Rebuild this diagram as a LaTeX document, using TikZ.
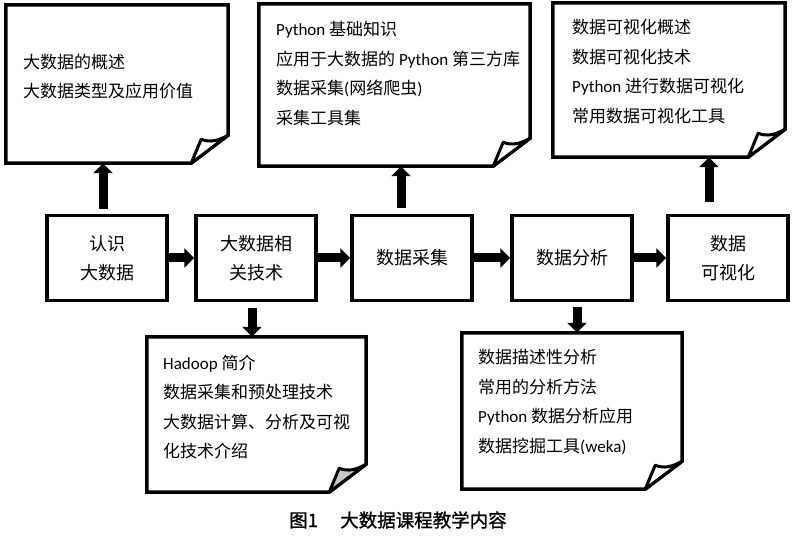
\documentclass[tikz,border=0pt]{standalone}
\usepackage{fontspec}
\setmainfont{Noto Sans CJK SC}
\newfontfamily\lat{Carlito}
\newfontfamily\capfont[FakeBold=1.2]{Noto Sans CJK SC}
\usetikzlibrary{arrows.meta,calc}
\tikzset{
  stage/.style={draw, line width=3.5pt, minimum width=120pt, minimum height=85pt,
    inner sep=0pt, align=center, font=\fontsize{18}{29}\selectfont},
  notearea/.style={minimum width=#1, inner sep=0pt},
  noteline/.style={line width=3.5pt, line join=miter},
  flapline/.style={line width=3pt, line join=round},
  notetext/.style={anchor=north west, align=left, inner sep=0pt, font=\fontsize{17}{29.5}\selectfont},
  blockarrow/.style={line width=9pt, -{Triangle[length=10pt,width=19pt]}},
}
\newcommand\foldnote[2]{%
  \draw[noteline, fill=white] (#1.north west) -- (#1.north east) -- ($(#1.south east)+(0,-28)$)
    -- ($(#1.south east)+(-37,0)$) -- (#1.south west) -- cycle;
  \draw[flapline, fill=#2] ($(#1.south east)+(-37,0)$) -- ($(#1.south east)+(-27,-24)$)
    .. controls ($(#1.south east)+(-18,-20)$) and ($(#1.south east)+(-9,-23)$) .. ($(#1.south east)+(0,-28)$) -- cycle;
}
\begin{document}
\begin{tikzpicture}[x=1pt,y=-1pt]
\useasboundingbox (0,0) rectangle (800,537);

% callout areas
\node[notearea=222pt, minimum height=158pt] (A) at (117,84) {};
\node[notearea=271pt, minimum height=162pt] (B) at (394.5,85) {};
\node[notearea=232pt, minimum height=154pt] (C) at (669,80) {};
\node[notearea=219pt, minimum height=155pt] (D) at (256.5,414.5) {};
\node[notearea=220pt, minimum height=156pt] (E) at (572,411) {};
\foldnote{A}{white}
\foldnote{B}{white}
\foldnote{C}{white}
\foldnote{D}{black!22}
\foldnote{E}{white}

\node[notetext] (tA) at (23,53.5) {大数据的概述\\大数据类型及应用价值};
\node[notetext] (tB) at (276,21.5) {{\lat Python} 基础知识\\应用于大数据的 {\lat Python} 第三方库\\数据采集{\lat (}网络爬虫{\lat )}\\采集工具集};
\node[notetext] (tC) at (572,19.5) {数据可视化概述\\数据可视化技术\\{\lat Python} 进行数据可视化\\常用数据可视化工具};
\node[notetext] (tD) at (163,354.5) {{\lat Hadoop} 简介\\数据采集和预处理技术\\大数据计算、分析及可视\\化技术介绍};
\node[notetext] (tE) at (478,349.5) {数据描述性分析\\常用的分析方法\\{\lat Python} 数据分析应用\\数据挖掘工具{\lat (weka)}};

% stages
\node[stage] (n1) at (107,258) {认识\\大数据};
\node[stage] (n2) at (256,258) {大数据相\\关技术};
\node[stage] (n3) at (412,258) {数据采集};
\node[stage] (n4) at (572,258) {数据分析};
\node[stage] (n5) at (728,258) {数据\\可视化};

% horizontal arrows
\draw[blockarrow] (n1) -- (n2);
\draw[blockarrow] (n2) -- (n3);
\draw[blockarrow] (n3) -- (n4);
\draw[blockarrow] (n4) -- (n5);

% vertical arrows
\draw[blockarrow, shorten <=5pt] ([xshift=-4pt]n1.north) -- ([xshift=-4pt]n1.north |- A.south);
\draw[blockarrow, shorten <=6pt] ([xshift=-11pt]n3.north) -- ([xshift=-11pt]n3.north |- B.south);
\draw[blockarrow, shorten <=12pt] ([xshift=-19pt]n5.north) -- ([xshift=-19pt]n5.north |- C.south);
\draw[blockarrow, shorten <=6pt] ([xshift=-4pt]n2.south) -- ([xshift=-4pt]n2.south |- D.north);
\draw[blockarrow, shorten <=5pt] ([xshift=5pt]n4.south) -- ([xshift=5pt]n4.south |- E.north);

% caption
\node[font=\capfont\fontsize{18.5}{22}\selectfont] (cap) at (398,520) {图1\hspace{1.2em}大数据课程教学内容};
\end{tikzpicture}
\end{document}
